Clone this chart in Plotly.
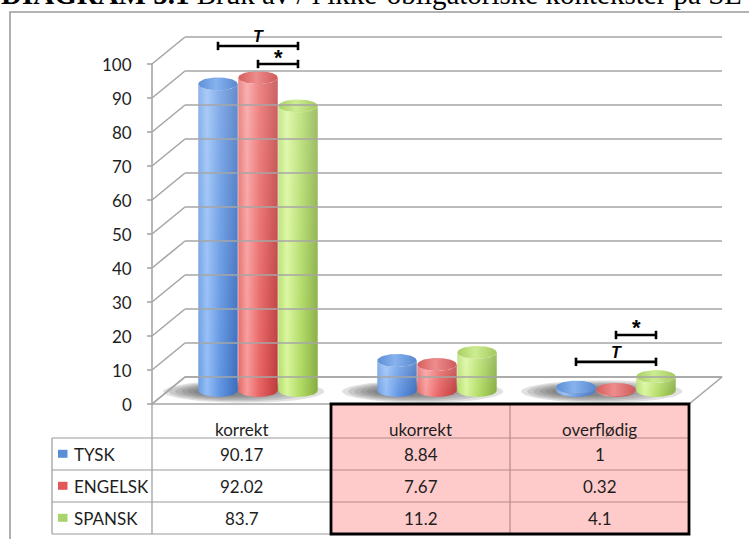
import numpy as np
import plotly.graph_objects as go

# ---- data ---------------------------------------------------------------
categories = ["korrekt", "ukorrekt", "overflødig"]
series_names = ["TYSK", "ENGELSK", "SPANSK"]
tysk = [90.17, 8.84, 1]
engelsk = [92.02, 7.67, 0.32]
spansk = [83.7, 11.2, 4.1]
series_values = [tysk, engelsk, spansk]
y_ticks = list(range(0, 101, 10))

# significance brackets: category, first series, last series, mark
sig_category = [0, 0, 2, 2]
sig_from = [0, 1, 1, 0]
sig_to = [2, 2, 2, 2]
sig_mark = ["T", "*", "*", "T"]

title_text = "<b>DIAGRAM 5.1</b> Bruk av / i ikke-obligatoriske kontekster på SL"

# ---- geometry / style ---------------------------------------------------
W, H = 749, 539
PX_PER_VAL = 3.4          # pixels per percentage point
Y0_PX = 404               # pixel row of value 0 on the front plane
CAT_PX = 179              # pixels per category column
X0_PX = 241.5             # pixel column of category 0 centre (front plane)


def vx(px):
    return (px - X0_PX) / CAT_PX


def vy(px):
    return (Y0_PX - px) / PX_PER_VAL


DX = 33 / CAT_PX          # depth offset of the back wall (x units)
DY = 27 / PX_PER_VAL      # depth offset of the back wall (value units)
BAR_W = 40 / CAT_PX
RX = BAR_W / 2 * 0.985
RY = 6.5 / PX_PER_VAL

GRID = "#a6a6a6"
FONT = "Lato, 'Open Sans', sans-serif"
TXT = "#1e1e1e"

body_scales = [
    [[0, "#6b9de3"], [0.22, "#93bdf6"], [0.55, "#6196e2"], [1, "#3b6cbd"]],
    [[0, "#e56767"], [0.22, "#f89a9a"], [0.55, "#e86262"], [1, "#bd3a3a"]],
    [[0, "#b5de6c"], [0.22, "#d8f69a"], [0.55, "#b3dc66"], [1, "#84ac3e"]],
]
top_scales = [
    [[0, "#5e8fd6"], [0.45, "#86b2ee"], [1, "#5a88cf"]],
    [[0, "#d65e5e"], [0.45, "#ee8c8c"], [1, "#cf5a5a"]],
    [[0, "#a9d063"], [0.45, "#cdec92"], [1, "#a4c95e"]],
]
key_colors = ["#5a8dd8", "#e05858", "#a9d46a"]
bracket_y = [105.3, 100.0, 20.3, 12.4]

fig = go.Figure()
shapes = []
annotations = []


def line(x0, y0, x1, y1, color=GRID, width=1.6):
    shapes.append(dict(type="line", xref="x", yref="y",
                       x0=x0, y0=y0, x1=x1, y1=y1,
                       line=dict(color=color, width=width)))


# ---- walls, floor, axis -------------------------------------------------
x_left, x_right = -0.5, len(categories) - 0.5
fig.add_trace(go.Scatter(
    x=[x_left, x_right, x_right + DX, x_left + DX, x_left],
    y=[0, 0, DY, DY, 0], mode="lines", fill="toself",
    fillcolor="#ffffff", line=dict(color=GRID, width=1.6), hoverinfo="skip"))

for v in y_ticks:
    line(x_left + DX, v + DY, x_right + DX, v + DY)
    line(x_left, v, x_left + DX, v + DY)
    line(x_left - 5 / CAT_PX, v, x_left, v)
    annotations.append(dict(x=vx(134), y=v, xref="x", yref="y", text=str(v),
                            showarrow=False, xanchor="right", yanchor="middle",
                            font=dict(family=FONT, size=17, color=TXT)))
line(x_left, 0, x_left, 100)

# ---- soft shadows on the floor ------------------------------------------
theta_full = np.linspace(0, 2 * np.pi, 80)
for i in range(len(categories)):
    cx = i + DX / 2 - 0.08
    for step in range(6):
        grow = 1 - step * 0.12
        fig.add_trace(go.Scatter(
            x=cx - 0.02 * step + 0.45 * grow * np.cos(theta_full),
            y=DY / 2 - 0.3 + 3.3 * grow * np.sin(theta_full),
            mode="lines", fill="toself", line=dict(width=0, color="rgba(0,0,0,0)"),
            fillcolor="rgba(80,80,80,0.17)", hoverinfo="skip"))

# ---- cylinders ----------------------------------------------------------
theta = np.linspace(0, np.pi, 40)
for i in range(len(categories)):
    for k, vals in enumerate(series_values):
        cx = i + (k - 1) * BAR_W + DX / 2
        base = DY / 2
        top = base + vals[i]
        xs = np.concatenate([cx - RX * np.cos(theta), cx + RX * np.cos(theta)])
        ys = np.concatenate([top - RY * np.sin(theta), base - RY * np.sin(theta)])
        fig.add_trace(go.Scatter(
            x=xs, y=ys, mode="lines", fill="toself",
            line=dict(width=0, color="rgba(0,0,0,0)"),
            fillgradient=dict(type="horizontal", colorscale=body_scales[k]),
            hoverinfo="skip"))
        # light sheen towards the top of each cylinder
        fig.add_trace(go.Scatter(
            x=xs, y=ys, mode="lines", fill="toself",
            line=dict(width=0, color="rgba(0,0,0,0)"),
            fillgradient=dict(type="vertical",
                              colorscale=[[0, "rgba(255,255,255,0)"],
                                          [1, "rgba(255,255,255,0.22)"]]),
            hoverinfo="skip"))
        fig.add_trace(go.Scatter(
            x=cx + RX * np.cos(theta_full), y=top + RY * np.sin(theta_full),
            mode="lines", fill="toself", line=dict(width=0, color="rgba(0,0,0,0)"),
            fillgradient=dict(type="horizontal", colorscale=top_scales[k]),
            hoverinfo="skip"))

# ---- significance brackets ---------------------------------------------
cap = 4.2 / PX_PER_VAL
for c, a, b, m, yb in zip(sig_category, sig_from, sig_to, sig_mark, bracket_y):
    xa = c + (a - 1) * BAR_W + DX / 2
    xb = c + (b - 1) * BAR_W + DX / 2
    line(xa, yb, xb, yb, color="#000000", width=2.6)
    line(xa, yb - cap, xa, yb + cap, color="#000000", width=2.6)
    line(xb, yb - cap, xb, yb + cap, color="#000000", width=2.6)
    if m == "T":
        annotations.append(dict(x=(xa + xb) / 2, y=yb + 9.5 / PX_PER_VAL, xref="x", yref="y",
                                text="<b><i>T</i></b>", showarrow=False, yanchor="middle",
                                font=dict(family="Liberation Sans, Arial", size=16, color="#000")))
    else:
        annotations.append(dict(x=(xa + xb) / 2, y=yb + 7 / PX_PER_VAL, xref="x", yref="y",
                                text="<b>*</b>", showarrow=False, yanchor="middle",
                                font=dict(family="Liberation Sans, Arial", size=22, color="#000")))

# ---- data table ---------------------------------------------------------
rows_px = [404, 438, 470, 502, 534]
rows = [vy(p) for p in rows_px]
label_left = vx(52)

# pink highlight of the last two columns
shapes.append(dict(type="rect", xref="x", yref="y", x0=0.5, x1=x_right,
                   y0=rows[-1], y1=rows[0], fillcolor="#ffcaca",
                   line=dict(width=0), layer="below"))
for r in rows[1:]:
    line(label_left, r, 0.5, r, color="#9a9a9a", width=1.2)
    line(0.5, r, x_right, r, color="#b58a8a", width=1.2)
line(label_left, rows[1], label_left, rows[-1], color="#9a9a9a", width=1.2)
line(x_left, rows[0], x_left, rows[-1], color="#9a9a9a", width=1.2)
line(1.5, rows[0], 1.5, rows[-1], color="#b58a8a", width=1.2)
shapes.append(dict(type="rect", xref="x", yref="y", x0=0.5, x1=x_right,
                   y0=rows[-1], y1=rows[0], line=dict(color="#000000", width=2.8)))

for i, cat in enumerate(categories):
    annotations.append(dict(x=i, y=vy(429), xref="x", yref="y", text=cat, showarrow=False,
                            yanchor="middle", font=dict(family=FONT, size=17, color=TXT)))
for k, name in enumerate(series_names):
    yc = (rows[k + 1] + rows[k + 2]) / 2
    shapes.append(dict(type="rect", xref="x", yref="y", x0=vx(58), x1=vx(67.5),
                       y0=yc - 3.8 / PX_PER_VAL, y1=yc + 4.2 / PX_PER_VAL,
                       fillcolor=key_colors[k], line=dict(width=0)))
    annotations.append(dict(x=vx(72), y=yc, xref="x", yref="y", text=name, showarrow=False,
                            xanchor="left", yanchor="middle",
                            font=dict(family=FONT, size=17, color=TXT)))
    for i in range(len(categories)):
        annotations.append(dict(x=i, y=yc, xref="x", yref="y",
                                text=f"{series_values[k][i]:g}", showarrow=False,
                                yanchor="middle", font=dict(family=FONT, size=17, color=TXT)))

# ---- chart frame and caption -------------------------------------------
shapes.append(dict(type="rect", xref="paper", yref="paper", x0=10 / W, x1=1.05,
                   y0=-0.05, y1=1 - 12 / H, line=dict(color="#9c9c9c", width=1.6)))
annotations.append(dict(x=-1 / W, y=1 - 12 / H, xref="paper", yref="paper", text=title_text,
                        showarrow=False, xanchor="left", yanchor="bottom",
                        font=dict(family="Liberation Serif, Times New Roman, serif",
                                  size=29, color="#000")))

fig.update_layout(
    width=W, height=H, autosize=False,
    margin=dict(l=0, r=0, t=0, b=0),
    paper_bgcolor="#ffffff", plot_bgcolor="#ffffff",
    showlegend=False,
    xaxis=dict(range=[vx(0), vx(W)], visible=False, fixedrange=True),
    yaxis=dict(range=[vy(H), vy(0)], visible=False, fixedrange=True),
    shapes=shapes, annotations=annotations,
)

fig.write_html("out.html")
